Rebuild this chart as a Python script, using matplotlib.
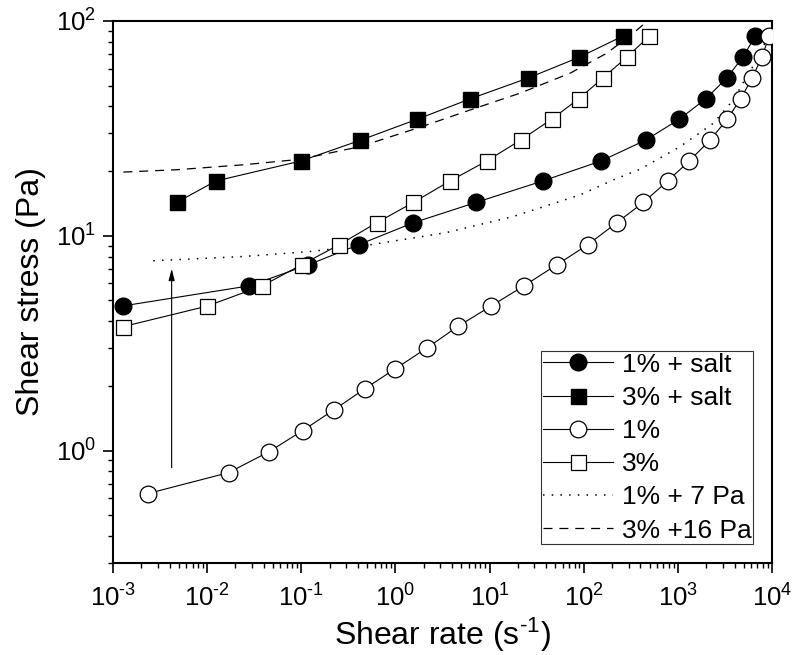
import matplotlib
matplotlib.use("Agg")
import math
import matplotlib.pyplot as plt
from matplotlib.ticker import FixedLocator, NullFormatter, FuncFormatter

plt.rcParams['font.family'] = ['Liberation Sans', 'DejaVu Sans']
plt.rcParams['mathtext.fontset'] = 'custom'
plt.rcParams['mathtext.rm'] = 'Liberation Sans'
plt.rcParams['mathtext.it'] = 'Liberation Sans:italic'
plt.rcParams['mathtext.bf'] = 'Liberation Sans:bold'
plt.rcParams['axes.unicode_minus'] = False

# ---- data ----
rate_1salt = [0.00129, 0.0281, 0.119, 0.41, 1.55, 7.18, 36.7, 153, 456, 1037, 1991, 3327, 4887, 6650]
stress_1salt = [4.72, 5.85, 7.33, 9.1, 11.5, 14.3, 18.0, 22.3, 27.9, 34.9, 43.5, 54.4, 67.8, 85.0]

rate_3salt = [0.00475, 0.0124, 0.0993, 0.42, 1.71, 6.24, 25.8, 89.8, 263]
stress_3salt = [14.3, 18.0, 22.3, 27.8, 34.9, 43.4, 54.3, 67.8, 85.2]

rate_1 = [0.00234, 0.0169, 0.0457, 0.1035, 0.223, 0.472, 0.99, 2.15, 4.66, 10.3, 23.2, 51.7,
          111, 224, 430, 780, 1324, 2197, 3350, 4655, 6180, 7780, 9370]
stress_1 = [0.631, 0.79, 0.99, 1.24, 1.55, 1.94, 2.4, 3.0, 3.8, 4.7, 5.85, 7.33,
            9.1, 11.5, 14.3, 18.0, 22.3, 27.9, 34.9, 43.5, 54.4, 67.8, 85.0]

rate_3 = [0.00129, 0.00989, 0.0385, 0.101, 0.254, 0.633, 1.55, 3.80, 9.33, 21.4, 45.7, 89.1, 161, 286, 498]
stress_3 = [3.78, 4.7, 5.85, 7.33, 9.1, 11.5, 14.3, 18.0, 22.3, 27.9, 34.9, 43.5, 54.4, 67.8, 85.0]

rate_fit1 = [0.00268, 0.0242, 0.124, 0.537, 2.15, 3.51, 17.9, 91.4, 206, 396, 1054, 2382, 3882, 5385, 7464, 9078]
stress_fit1 = [7.65, 8.01, 8.45, 9.08, 10.0, 10.36, 12.3, 15.5, 18.2, 20.4, 26.0, 33.4, 42.9, 55.1, 69.5, 86.0]

rate_fit3 = [0.00129, 0.00475, 0.0242, 0.0969, 0.42, 1.82, 6.2, 21.0, 71.5, 175, 336, 467]
stress_fit3 = [19.8, 20.3, 21.4, 22.7, 26.0, 32.0, 38.5, 46.1, 57.1, 70.7, 87.7, 99.3]

labels = ["1% + salt", "3% + salt", "1%", "3%", "1% + 7 Pa", "3% +16 Pa"]
xticks = [1e-3, 1e-2, 1e-1, 1e0, 1e1, 1e2, 1e3, 1e4]
yticks = [1e0, 1e1, 1e2]
arrow_rate = 0.0042
arrow_from = 0.834
arrow_to = 7.03

HY = '\u2010'  # short hyphen used as the exponent's minus sign


def pow10_label(v, pos):
    e = int(round(math.log10(v)))
    s = str(abs(e))
    if e < 0:
        s = HY + s
    return r'10$^{\mathregular{' + s + '}}$'


fig = plt.figure(figsize=(7.94, 6.55), dpi=100)
ax = fig.add_axes([0.1423, 0.1405, 0.830, 0.8275])

lw = 0.8
ax.plot(rate_1salt, stress_1salt, '-', color='black', lw=lw, marker='o', ms=12,
        mfc='black', mec='black', label=labels[0], zorder=3)
ax.plot(rate_3salt, stress_3salt, '-', color='black', lw=lw, marker='s', ms=10.8,
        mfc='black', mec='black', label=labels[1], zorder=3)
ax.plot(rate_1, stress_1, '-', color='black', lw=lw, marker='o', ms=12,
        mfc='white', mec='black', mew=0.9, label=labels[2], zorder=3)
ax.plot(rate_3, stress_3, '-', color='black', lw=lw, marker='s', ms=10.8,
        mfc='white', mec='black', mew=0.9, label=labels[3], zorder=3)
ax.plot(rate_fit1, stress_fit1, color='black', lw=1.1, linestyle=(0, (1, 4.7)),
        label=labels[4], zorder=2)
ax.plot(rate_fit3, stress_fit3, color='black', lw=0.9, linestyle=(0, (7.2, 5.5)),
        label=labels[5], zorder=2)

ax.annotate('', xy=(arrow_rate, arrow_to), xytext=(arrow_rate, arrow_from),
            arrowprops=dict(arrowstyle='-|>,head_length=0.7,head_width=0.18',
                            color='black', lw=0.8, shrinkA=0, shrinkB=0))

ax.set_xscale('log')
ax.set_yscale('log')
ax.set_xlim(1e-3, 1e4)
ax.set_ylim(0.3, 100)

x_minor = [m * 10.0 ** e for e in range(-3, 4) for m in range(2, 10)]
y_minor = [m * 10.0 ** e for e in range(-1, 2) for m in range(2, 10) if 0.3 <= m * 10.0 ** e <= 100]
ax.xaxis.set_major_locator(FixedLocator(xticks))
ax.xaxis.set_minor_locator(FixedLocator(x_minor))
ax.xaxis.set_major_formatter(FuncFormatter(pow10_label))
ax.xaxis.set_minor_formatter(NullFormatter())
ax.yaxis.set_major_locator(FixedLocator(yticks))
ax.yaxis.set_minor_locator(FixedLocator(y_minor))
ax.yaxis.set_major_formatter(FuncFormatter(pow10_label))
ax.yaxis.set_minor_formatter(NullFormatter())

for s in ax.spines.values():
    s.set_linewidth(1.5)
ax.tick_params(which='major', direction='out', length=7, width=1.2, labelsize=18.5,
               top=False, right=False)
ax.tick_params(axis='x', which='major', pad=8.5)
ax.tick_params(axis='y', which='major', pad=5)
ax.tick_params(which='minor', direction='out', length=3.5, width=1.0, top=False, right=False)

ax.set_xlabel('Shear rate (s$^{\\mathregular{' + HY + '1}}$)', fontsize=23, labelpad=3)
ax.set_ylabel('Shear stress (Pa)', fontsize=23, labelpad=7)

leg = ax.legend(loc='lower right', bbox_to_anchor=(0.971, 0.035), borderaxespad=0,
                fontsize=19, frameon=True, fancybox=False, edgecolor='black',
                borderpad=0.05, handlelength=2.65, handletextpad=0.35, labelspacing=0.35)
leg.get_frame().set_linewidth(0.8)

fig.savefig('out.png', dpi=100)
